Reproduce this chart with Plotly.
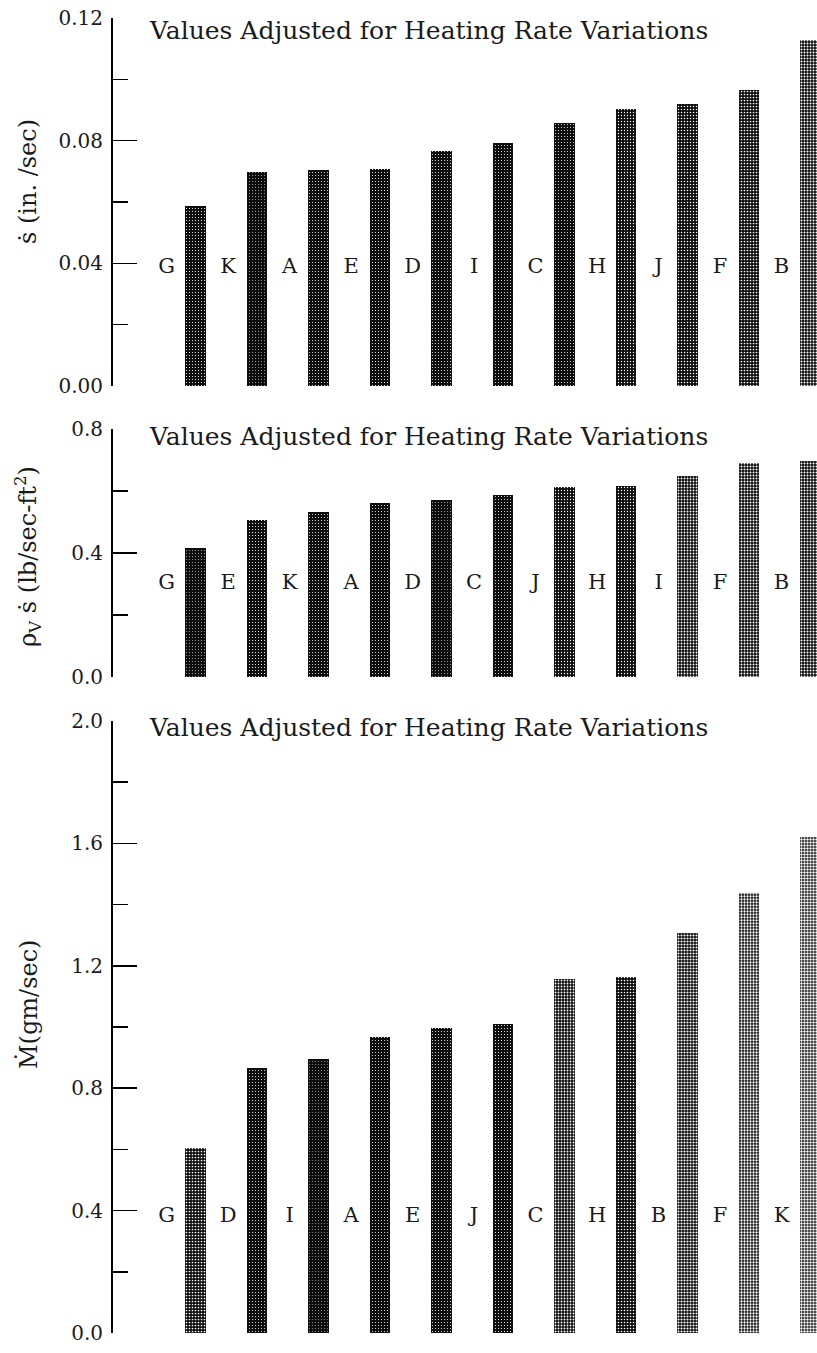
import plotly.graph_objects as go

# ---------------- data ----------------
top_labels = ["G", "K", "A", "E", "D", "I", "C", "H", "J", "F", "B"]
top_values = [0.0586, 0.0698, 0.0704, 0.0708, 0.0766, 0.0791, 0.0857, 0.0902, 0.0920, 0.0965, 0.1128]
top_ticks = [0.00, 0.04, 0.08, 0.12]

mid_labels = ["G", "E", "K", "A", "D", "C", "J", "H", "I", "F", "B"]
mid_values = [0.415, 0.506, 0.533, 0.560, 0.570, 0.587, 0.614, 0.616, 0.648, 0.689, 0.698]
mid_ticks = [0.0, 0.4, 0.8]

bot_labels = ["G", "D", "I", "A", "E", "J", "C", "H", "B", "F", "K"]
bot_values = [0.606, 0.867, 0.894, 0.966, 0.997, 1.010, 1.156, 1.162, 1.308, 1.437, 1.620]
bot_ticks = [0.0, 0.4, 0.8, 1.2, 1.6, 2.0]

panel_note = "Values Adjusted for Heating Rate Variations"
top_title = "ṡ (in. /sec)"
mid_title = "ρ<sub>V</sub> ṡ (lb/sec-ft<sup>2</sup>)"
bot_title = "Ṁ(gm/sec)"

# ---------------- styling ----------------
W, H = 817, 1353
L = 113
FONT = "DejaVu Serif"
INK = "#1a1a1a"

# white-speckle density per bar (lighter bars are more speckled)
top_speck = [0.12, 0.08, 0.1, 0.12, 0.1, 0.1, 0.1, 0.15, 0.2, 0.25, 0.35]
mid_speck = [0.08, 0.12, 0.1, 0.1, 0.08, 0.1, 0.15, 0.15, 0.3, 0.35, 0.35]
bot_speck = [0.25, 0.1, 0.06, 0.1, 0.1, 0.12, 0.3, 0.22, 0.4, 0.45, 0.5]


def py(px):
    return 1 - px / H


panels = [
    dict(labels=top_labels, values=top_values, ticks=top_ticks, fmt=".2f", minor=0.02,
         ypx=(386, 18), rng=[0, 0.12], letter_y=0.0385, speck=top_speck,
         title=top_title, title_y=182, note_y=30),
    dict(labels=mid_labels, values=mid_values, ticks=mid_ticks, fmt=".1f", minor=0.2,
         ypx=(677, 429), rng=[0, 0.8], letter_y=0.30, speck=mid_speck,
         title=mid_title, title_y=557, note_y=436),
    dict(labels=bot_labels, values=bot_values, ticks=bot_ticks, fmt=".1f", minor=0.2,
         ypx=(1333, 721), rng=[0, 2.0], letter_y=0.38, speck=bot_speck,
         title=bot_title, title_y=1005, note_y=727),
]

fig = go.Figure()
annotations = []
layout_axes = {}

for k, p in enumerate(panels, start=1):
    xa = "x" if k == 1 else f"x{k}"
    ya = "y" if k == 1 else f"y{k}"
    xs = list(range(len(p["labels"])))
    fig.add_trace(go.Bar(
        x=xs, y=p["values"], xaxis=xa, yaxis=ya, width=0.34,
        marker=dict(
            color="#111111",
            line=dict(width=0),
            pattern=dict(shape=".", fgcolor="#ffffff", bgcolor="#0d0d0d",
                         size=3, solidity=p["speck"], fillmode="replace"),
        ),
        showlegend=False, hoverinfo="skip",
    ))
    fig.add_trace(go.Scatter(
        x=[i - 0.47 for i in xs], y=[p["letter_y"]] * len(xs), text=p["labels"],
        mode="text", textposition="middle center", xaxis=xa, yaxis=ya,
        textfont=dict(family=FONT, size=21, color=INK),
        showlegend=False, hoverinfo="skip", cliponaxis=False,
    ))
    layout_axes["xaxis" if k == 1 else f"xaxis{k}"] = dict(
        domain=[0, 1], range=[-1.341, 10.106], visible=False, anchor=ya,
        fixedrange=True, automargin=False,
    )
    layout_axes["yaxis" if k == 1 else f"yaxis{k}"] = dict(
        domain=[py(p["ypx"][0]), py(p["ypx"][1])], range=p["rng"], anchor=xa,
        automargin=False, fixedrange=True,
        showline=True, linewidth=2, linecolor="#000", mirror=False,
        showgrid=False, zeroline=False,
        ticks="inside", ticklen=24, tickwidth=1.5, tickcolor="#000",
        tickvals=p["ticks"], tickformat=p["fmt"], ticklabelstandoff=4,
        tickfont=dict(family=FONT, size=20, color=INK),
        minor=dict(ticks="inside", ticklen=15, tickwidth=1.5, tickcolor="#000",
                   dtick=p["minor"], showgrid=False),
    )
    annotations.append(dict(
        text=panel_note, xref="paper", yref="paper", x=(147 - L) / (W - L), y=py(p["note_y"]),
        xanchor="left", yanchor="middle", showarrow=False,
        font=dict(family=FONT, size=25, color=INK),
    ))
    annotations.append(dict(
        text=p["title"], xref="paper", yref="paper", x=(28 - L) / (W - L), y=py(p["title_y"]),
        xanchor="center", yanchor="middle", textangle=-90, showarrow=False,
        font=dict(family=FONT, size=24, color=INK),
    ))

fig.update_layout(
    template="none",
    width=W, height=H, autosize=False,
    margin=dict(l=L, r=0, t=0, b=0, pad=0),
    paper_bgcolor="white", plot_bgcolor="white",
    bargap=0, annotations=annotations, showlegend=False,
    **layout_axes,
)

fig.write_html(
    "out.html",
    config={"displayModeBar": False, "staticPlot": True},
    post_script="document.body.style.margin='0';document.body.style.overflow='hidden';",
)
